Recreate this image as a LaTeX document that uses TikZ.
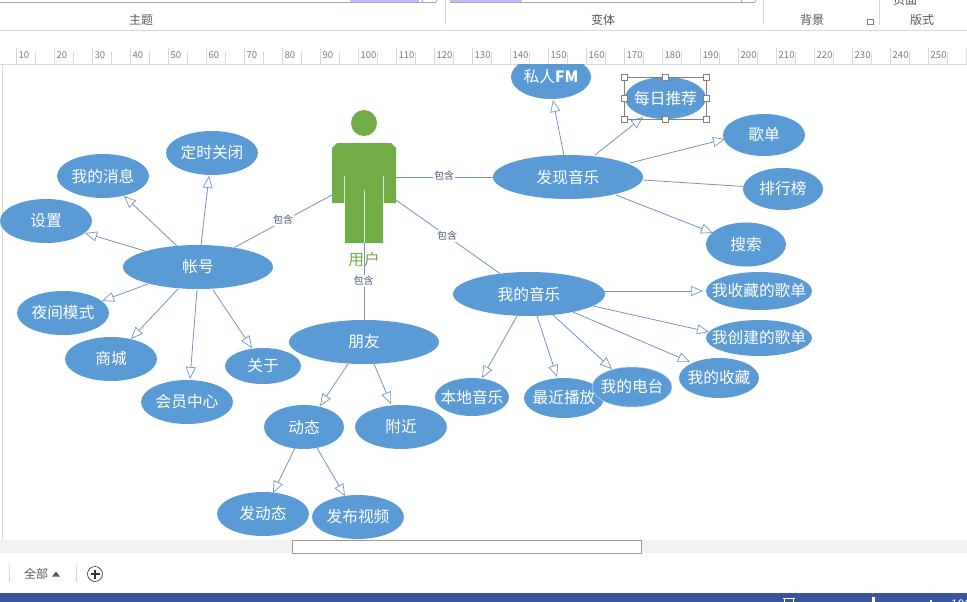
\documentclass[tikz,border=0pt]{standalone}
\usepackage{fontspec}
\setmainfont{Noto Sans CJK SC}
\usetikzlibrary{arrows.meta,calc,shapes.geometric}
\definecolor{nodeblue}{HTML}{5B9BD5}
\definecolor{linkblue}{HTML}{7496C0}
\definecolor{usergreen}{HTML}{70AD47}
\definecolor{chromeline}{HTML}{D8D8D8}
\definecolor{chrometext}{HTML}{5A5A5A}
\definecolor{barblue}{HTML}{3B55A0}
\newcommand{\tx}[1]{\makebox[0pt]{#1}}
\tikzset{
  bub/.style n args={2}{ellipse,fill=nodeblue,draw=none,minimum width=#1*2pt,minimum height=#2*2pt,inner sep=0pt,text=white,font=\fontsize{15.7}{16}\selectfont},
  link/.style={draw=linkblue,line width=0.8pt,-{Triangle[open,length=12pt,width=10pt,line width=0.7pt]}},
  plainlink/.style={draw=linkblue,line width=0.8pt},
  inclabel/.style={fill=white,inner sep=1pt,text=linkblue!60!black,font=\fontsize{10}{11}\selectfont},
  rulertext/.style={text=chrometext!80,font=\fontsize{9.5}{11}\selectfont,inner sep=0pt},
  chrometitle/.style={text=chrometext,font=\fontsize{12}{13}\selectfont,inner sep=0pt},
  handle/.style={draw=gray,fill=white,line width=0.5pt,minimum size=6pt,inner sep=0pt}
}
\begin{document}
\begin{tikzpicture}[x=1pt,y=-1pt]
\useasboundingbox (0,0) rectangle (967,602);
\fill[white] (0,0) rectangle (967,602);
% ribbon
\fill[blue!25!white] (350,0) rectangle (419,2);
\fill[blue!25!white] (450,0) rectangle (522,2);
\draw[black!35,line width=0.8pt] (0,2.5) -- (436,2.5) (450,2.5) -- (755,2.5);
\draw[gray!70,line width=0.5pt] (422.5,0) -- (422.5,2.5) (436,0) -- (436,2.5) (741,0) -- (741,2.5) (755,0) -- (755,2.5);
\draw[chromeline,line width=0.6pt] (445,0) -- (445,25) (763,0) -- (763,25) (879,0) -- (879,25);
\draw[chromeline,line width=0.8pt] (0,30.5) -- (967,30.5);
\node[chrometitle] (t1) at (141,20) {主题};
\node[chrometitle] (t2) at (603,20) {变体};
\node[chrometitle] (t3) at (812,20) {背景};
\node[chrometitle] (t4) at (922,20) {版式};
\node[chrometitle] (t5) at (905,0) {页面};
\draw[gray,line width=0.5pt] (867.5,19) rectangle (873,24.5);
% ruler
\foreach \k in {1,...,25} {
  \pgfmathsetmacro{\xx}{16.5+38*(\k-1)}
  \pgfmathtruncatemacro{\lab}{\k*10}
  \draw[chromeline,line width=0.6pt] (\xx,48) -- (\xx,64);
  \draw[chromeline,line width=0.6pt] (\xx+19,52) -- (\xx+19,64);
  \node[rulertext,anchor=west] at (\xx+2,55) {\lab};
}
\draw[chromeline,line width=0.6pt] (966.5,48) -- (966.5,64);
\draw[chromeline,line width=0.8pt] (0,64.5) -- (967,64.5);
\draw[chromeline,line width=0.6pt] (2,65) -- (2,540);
% page content
\begin{scope}
\clip (0,65) rectangle (967,539.5);
% person
\fill[usergreen] (364,123) circle (13);
\fill[usergreen] (337,143) -- (391,143) -- (396,148) -- (396,203) -- (383,203) -- (383,243) -- (345,243) -- (345,203) -- (332,203) -- (332,148) -- cycle;
\draw[white!70!usergreen,line width=0.9pt] (344.5,176) -- (344.5,203) (383,176) -- (383,203) (364,190) -- (364,243);
\node[text=usergreen,font=\fontsize{15.7}{16}\selectfont,inner sep=0pt] (ulabel) at (364,260) {用户};
\coordinate (uL) at (332,195);
\coordinate (uR) at (396,177);
\coordinate (uD) at (364,243);
\coordinate (uB) at (396,200);
% nodes
\node[bub={40}{22}] (fm) at (551,77) {\tx{私人\textbf{FM}}};
\node[bub={40.5}{21}] (daily) at (665.5,98) {\tx{每日推荐}};
\node[bub={41}{21}] (gedan) at (764,135) {\tx{歌单}};
\node[bub={40}{21}] (rank) at (783,189) {\tx{排行榜}};
\node[bub={40}{22}] (search) at (746,244.5) {\tx{搜索}};
\node[bub={75}{22}] (find) at (568,177) {\tx{发现音乐}};
\node[bub={76}{22}] (mine) at (529,294) {\tx{我的音乐}};
\node[bub={53}{19}] (fav) at (759,291) {\tx{我收藏的歌单}};
\node[bub={53}{18}] (made) at (759,338) {\tx{我创建的歌单}};
\node[bub={40}{20}] (coll) at (719,378) {\tx{我的收藏}};
\node[bub={40}{20}] (recent) at (564,398) {\tx{最近播放}};
\node[bub={40}{20},draw=nodeblue!40!white,line width=0.5pt] (radio) at (632,387) {\tx{我的电台}};
\node[bub={37}{19}] (local) at (472,397) {\tx{本地音乐}};
\node[bub={75}{22}] (friend) at (364,342) {\tx{朋友}};
\node[bub={40}{22}] (dyn) at (304,427) {\tx{动态}};
\node[bub={46}{22}] (near) at (401,427) {\tx{附近}};
\node[bub={46}{22}] (post) at (263,514) {\tx{发动态}};
\node[bub={46}{22}] (video) at (358,517) {\tx{发布视频}};
\node[bub={75}{22}] (acct) at (198,267) {\tx{帐号}};
\node[bub={46}{22}] (timer) at (212,153) {\tx{定时关闭}};
\node[bub={46}{22}] (msg) at (103,176) {\tx{我的消息}};
\node[bub={46}{22}] (setting) at (46,221) {\tx{设置}};
\node[bub={46}{22}] (night) at (63,313) {\tx{夜间模式}};
\node[bub={46}{22}] (shop) at (111,359) {\tx{商城}};
\node[bub={46}{22}] (vip) at (187,402) {\tx{会员中心}};
\node[bub={38}{18}] (about) at (263,366) {\tx{关于}};
% user links
\draw[plainlink] (uL) -- (acct);
\draw[plainlink] (uR) -- (find);
\draw[plainlink] (uB) -- (mine);
\draw[plainlink] (uD) -- (friend);
\node[inclabel] (i1) at (283,220) {包含};
\node[inclabel] (i2) at (444,176) {包含};
\node[inclabel] (i3) at (447,236) {包含};
\node[inclabel] (i4) at (363.5,281) {包含};
% arrows: source, target, offsets from their centres
\foreach \a/\b/\sx/\sy/\ex/\ey in {
  find/fm/-4/-21/2/23, find/daily/27/-22/-22.5/19, find/gedan/62/-14/-39/4, find/search/48/18/-33/-11.5,
  acct/timer/3/-22/-3/23, acct/msg/-21/-21/21/20, acct/setting/-53/-16/39/12, acct/night/-50/17/39/-12,
  acct/shop/-20/22/20/-20, acct/vip/-1/23/3/-23, acct/about/15/23/-11/-18,
  friend/dyn/-16/22/16/-21, friend/near/10/22/-10/-23, dyn/post/-9/21/10/-21, dyn/video/13/21/-13/-21,
  mine/local/-12/22/10/-19, mine/recent/8/22/-7/-21, mine/radio/24/21/-20/-18,
  mine/fav/75/-3/-56/0, mine/made/64/12/-50/-6, mine/coll/44/18/-29/-16}
  \draw[link] ($(\a)+(\sx,\sy)$) -- ($(\b)+(\ex,\ey)$);
\draw[plainlink] ($(find)+(75,3)$) -- (rank);
% selection
\draw[black!50,line width=0.6pt] (624.5,77.5) rectangle (706.5,119.5);
\foreach \p/\q in {624.5/77.5,665.5/77.5,706.5/77.5,624.5/98.5,706.5/98.5,624.5/119.5,665.5/119.5,706.5/119.5}
  \node[handle] at (\p,\q) {};
\end{scope}
% scrollbar
\fill[black!5] (0,540) rectangle (967,553);
\draw[gray!80,fill=white,line width=0.7pt] (292,540) rectangle (641.5,553.5);
% tabs
\draw[chromeline,line width=0.6pt] (9,565) -- (9,582) (76,565) -- (76,582);
\node[text=chrometext,font=\fontsize{12}{13}\selectfont,inner sep=0pt] (alltab) at (36,574) {全部};
\fill[chrometext] (52,576.5) -- (60,576.5) -- (56,571.5) -- cycle;
\node[draw=black!80,circle,minimum size=15pt,inner sep=0pt,line width=0.6pt] (plus) at (95,574) {};
\draw[black!80,line width=1.1pt] (90.5,574) -- (99.5,574) (95,569.5) -- (95,578.5);
% status bar
\fill[barblue] (0,593) rectangle (967,602);
\begin{scope}
\clip (0,593) rectangle (967,602);
\draw[white,line width=0.8pt] (783,598.5) -- (795,598.5) (784.5,598.5) -- (784.5,602) (793.5,598.5) -- (793.5,602);
\fill[white] (872,597) rectangle (875,602);
\fill[white] (930,600) rectangle (931.5,602);
\node[text=white,font=\fontsize{12}{13}\selectfont,inner sep=0pt,anchor=base west] (zoomtext) at (951,608) {100};
\end{scope}
\end{tikzpicture}
\end{document}
